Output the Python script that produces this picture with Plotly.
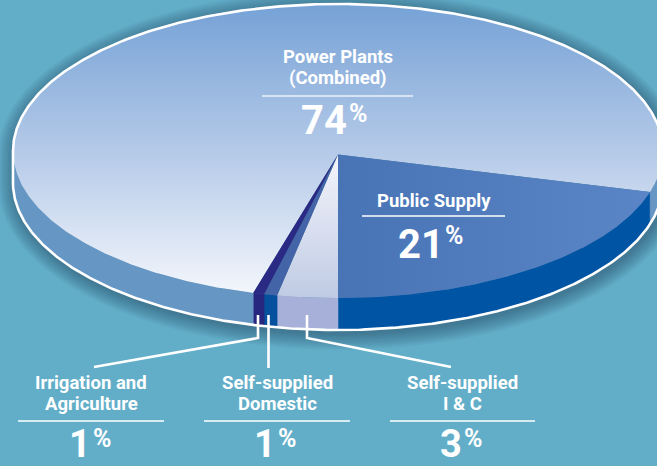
import numpy as np
import plotly.graph_objects as go

# Data
categories = ["Public Supply", "Self-supplied I & C", "Self-supplied Domestic",
              "Irrigation and Agriculture", "Power Plants (Combined)"]
drawn_shares = [20.5, 3.0, 0.65, 0.55, 75.3]
printed_percent = [21, 3, 1, 1, 74]

# Styling
BG = "#62aec9"
top_fill = [
    dict(type="horizontal", start=338, stop=652, colorscale=[[0, "#4874b6"], [1, "#5a85c7"]]),
    dict(type="vertical", start=155, stop=298, colorscale=[[0, "#f4f4fb"], [1, "#bfcbe4"]]),
    dict(type="vertical", start=155, stop=298, colorscale=[[0, "#4365a8"], [1, "#4365a8"]]),
    dict(type="vertical", start=155, stop=298, colorscale=[[0, "#2a2a85"], [1, "#2a2a85"]]),
    dict(type="vertical", start=5, stop=300,
         colorscale=[[0, "#76a2d6"], [0.5, "#b5cae8"], [1, "#f6f8fd"]]),
]
side_fill = ["#0054a4", "#a6b0d8", "#05519e", "#27277f", "#6596c4"]

CX, CY, RX, RY, DEPTH = 338.0, 151.0, 325.0, 147.0, 32.0
APEX_Y = 154.5
START_DEG = 16.2


def arc(a0, a1, dy=0.0, grow=0.0):
    t = np.radians(np.linspace(a0, a1, max(int(abs(a1 - a0) * 2), 2)))
    return CX + (RX + grow) * np.cos(t), CY + dy + (RY + grow) * np.sin(t)


def silhouette(grow=0.0, ox=0.0, oy=0.0):
    xa, ya = arc(180, 360, 0, grow)
    xb, yb = arc(0, 180, DEPTH, grow)
    return (np.r_[xa, xb, xa[0]] + ox, np.r_[ya, yb, ya[0]] + oy)


fig = go.Figure()

# soft shadow
for i in range(12):
    sx, sy = silhouette(grow=1.5 + i * 1.4, ox=2, oy=3)
    fig.add_trace(go.Scatter(x=sx, y=sy, mode="lines", line_width=0, fill="toself",
                             fillcolor="rgba(25,60,70,0.04)", hoverinfo="skip"))

# slice angle ranges from shares
edges = START_DEG + np.cumsum([0] + drawn_shares) * 3.6


def add_side(a0, a1, color):
    a0, a1 = max(a0, 0), min(a1, 180)
    if a1 <= a0:
        return
    xt, yt = arc(a0, a1)
    xb, yb = arc(a1, a0, DEPTH)
    fig.add_trace(go.Scatter(x=np.r_[xt, xb, xt[0]], y=np.r_[yt, yb, yt[0]], mode="lines",
                             line=dict(width=0.5, color=color), fill="toself",
                             fillcolor=color, hoverinfo="skip"))


# sides: wall of each slice visible on the lower half
for i in range(5):
    a0, a1 = edges[i], edges[i + 1]
    add_side(a0, a1, side_fill[i])
    add_side(a0 - 360, a1 - 360, side_fill[i])

# top faces
order = [4, 0, 1, 2, 3]
for i in order:
    xs, ys = arc(edges[i], edges[i + 1])
    fig.add_trace(go.Scatter(x=np.r_[CX, xs, CX], y=np.r_[APEX_Y, ys, APEX_Y], mode="lines",
                             line_width=0, fill="toself", fillgradient=top_fill[i],
                             name=categories[i], hoverinfo="skip"))

# outline
ox_, oy_ = silhouette()
fig.add_trace(go.Scatter(x=ox_, y=oy_, mode="lines", line=dict(color="white", width=2.6),
                         hoverinfo="skip"))

FONT = "Roboto"
annotations = []
shapes = []


def text(x, y, s, size):
    annotations.append(dict(x=x, y=y, xref="x", yref="y", text="<b>%s</b>" % s, showarrow=False,
                            xanchor="center", yanchor="middle", borderpad=0, borderwidth=0,
                            font=dict(family=FONT, size=size, color="white")))


def rule(x0, x1, y, color="white", w=1.4):
    shapes.append(dict(type="line", x0=x0, x1=x1, y0=y, y1=y, xref="x", yref="y",
                       line=dict(color=color, width=w)))


def path(pts):
    d = "M " + " L ".join("%g,%g" % p for p in pts)
    shapes.append(dict(type="path", path=d, xref="x", yref="y",
                       line=dict(color="white", width=2.6)))


def label(lines, line_ys, size, rule_span, rule_y, idx, num_x, num_y, pct_x, pct_y, num_size=40, rule_color="white"):
    cx = (rule_span[0] + rule_span[1]) / 2
    for s, y in zip(lines, line_ys):
        text(cx, y, s, size)
    rule(rule_span[0], rule_span[1], rule_y, rule_color)
    text(num_x, num_y, str(printed_percent[idx]), num_size)
    text(pct_x, pct_y, "%", 25)


label(["Power Plants", "(Combined)"], [57, 78], 18.5, (262, 413), 96, 4, 324, 120, 358, 113,
      rule_color="rgba(255,255,255,0.8)")
label(["Public Supply"], [201], 18.5, (362, 505), 216, 0, 421, 244, 454, 235)
label(["Irrigation and", "Agriculture"], [383, 404], 18.5, (18, 164), 421, 3, 80, 443.5, 102, 438, num_size=38)
label(["Self-supplied", "Domestic"], [383, 404], 18.5, (204, 350), 421, 2, 265, 443.5, 287, 438, num_size=38)
label(["Self-supplied", "I & C"], [383, 404], 18.5, (390, 535), 421, 1, 451, 443.5, 473, 438, num_size=38)

# leader lines
path([(258, 315), (258, 338), (94, 367)])
path([(268.5, 315), (268.5, 368)])
path([(307, 315), (307, 338), (451, 367)])

fig.update_layout(
    width=657, height=466, autosize=False, showlegend=False,
    margin=dict(l=0, r=0, t=0, b=0),
    paper_bgcolor=BG, plot_bgcolor=BG,
    xaxis=dict(range=[0, 657], visible=False, fixedrange=True),
    yaxis=dict(range=[466, 0], visible=False, fixedrange=True),
    annotations=annotations, shapes=shapes,
)
fig.write_html("out.html", config=dict(displayModeBar=False),
               post_script="document.body.style.margin='0';document.documentElement.style.overflow='hidden';")
